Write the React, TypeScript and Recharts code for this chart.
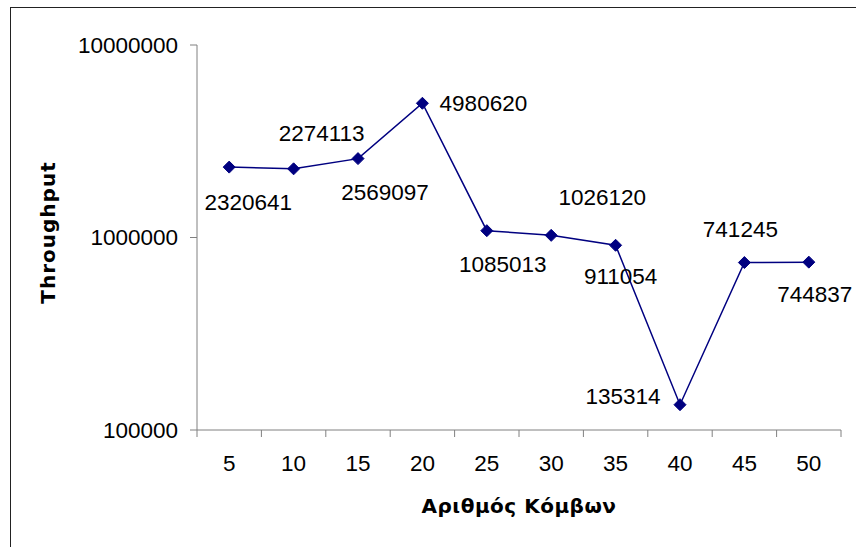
import React from 'react';
import { LineChart, Line, XAxis, YAxis, LabelList } from 'recharts';

// Number of nodes (x) and measured throughput (y)
const nodeCounts = [5, 10, 15, 20, 25, 30, 35, 40, 45, 50];
const throughputValues = [2320641, 2274113, 2569097, 4980620, 1085013, 1026120, 911054, 135314, 741245, 744837];
const yTicks = [100000, 1000000, 10000000];
// Category boundaries where the x-axis tick marks sit
const xBoundaryTicks = [2.5, 7.5, 12.5, 17.5, 22.5, 27.5, 32.5, 37.5, 42.5, 47.5, 52.5];

// Per-point placement of the value labels (offset of label centre from the marker)
const labelOffsets: [number, number][] = [
  [19, 35], [28, -36], [27, 33], [61, 0], [16, 33],
  [51, -38], [5, 31], [-57, -9], [-4, -34], [6, 32],
];

const data = nodeCounts.map((n, i) => ({ nodes: n, throughput: throughputValues[i] }));

const SERIES_COLOR = '#000080';
const AXIS_COLOR = '#808080';
const NUM_FONT = '"Liberation Sans", Arial, sans-serif';
const TITLE_FONT = '"DejaVu Sans", Verdana, sans-serif';

const Diamond = (props: any) => {
  const { cx, cy, index } = props;
  if (cx == null || cy == null) return null;
  const r = 6;
  return (
    <polygon
      key={`d-${index}`}
      points={`${cx},${cy - r} ${cx + r},${cy} ${cx},${cy + r} ${cx - r},${cy}`}
      fill={SERIES_COLOR}
      stroke={SERIES_COLOR}
    />
  );
};

const ValueLabel = (props: any) => {
  const { x, y, value, index } = props;
  const [dx, dy] = labelOffsets[index] || [0, 0];
  return (
    <text
      x={x + dx}
      y={y + dy}
      dy="0.36em"
      textAnchor="middle"
      fontFamily={NUM_FONT}
      fontSize={22.5}
      fill="#000"
    >
      {value}
    </text>
  );
};

const YTitle = (props: any) => {
  const vb = props.viewBox || {};
  const x = vb.x + 48;
  const y = vb.y + vb.height / 2 - 5;
  return (
    <text
      x={x}
      y={y}
      transform={`rotate(-90, ${x}, ${y})`}
      textAnchor="middle"
      dominantBaseline="central"
      fontFamily={TITLE_FONT}
      fontWeight="bold"
      fontSize={20}
      letterSpacing={1}
      fill="#000"
    >
      Throughput
    </text>
  );
};

const XTitle = (props: any) => {
  const vb = props.viewBox || {};
  return (
    <text
      x={vb.x + vb.width / 2}
      y={vb.y + 82}
      textAnchor="middle"
      fontFamily={TITLE_FONT}
      fontWeight="bold"
      fontSize={20}
      letterSpacing={0.5}
      fill="#000"
    >
      Αριθμός Κόμβων
    </text>
  );
};

const blankTick = () => '';

export default function App() {
  return (
    <div style={{ position: 'fixed', left: 0, top: 0, width: 856, height: 547, background: '#fff', overflow: 'hidden' }}>
      <div
        style={{
          position: 'absolute',
          left: 10,
          top: 7,
          width: 846,
          height: 540,
          borderLeft: '1px solid #222',
          borderTop: '1px solid #222',
          boxSizing: 'border-box',
        }}
      />
      <div style={{ position: 'absolute', left: 0, top: 0 }}>
        <LineChart width={856} height={547} data={data} margin={{ top: 45, right: 15, bottom: 56, left: 0 }}>
          <XAxis
            xAxisId="a_bounds"
            dataKey="nodes"
            type="number"
            domain={[2.5, 52.5]}
            ticks={xBoundaryTicks}
            interval={0}
            height={1}
            tickSize={7}
            tickFormatter={blankTick}
            tickLine={{ stroke: AXIS_COLOR }}
            axisLine={{ stroke: AXIS_COLOR }}
            allowDataOverflow
          />
          <XAxis
            xAxisId="b_labels"
            dataKey="nodes"
            type="number"
            domain={[2.5, 52.5]}
            ticks={nodeCounts}
            interval={0}
            height={60}
            tickSize={0}
            tickMargin={24}
            axisLine={false}
            tickLine={false}
            tick={{ fontSize: 22.5, fill: '#000', fontFamily: NUM_FONT }}
            label={<XTitle />}
            allowDataOverflow
          />
          <YAxis
            scale="log"
            domain={[100000, 10000000]}
            ticks={yTicks}
            interval={0}
            width={197}
            tickSize={7}
            tickMargin={12}
            tick={{ fontSize: 22.5, fill: '#000', fontFamily: NUM_FONT }}
            tickLine={{ stroke: AXIS_COLOR }}
            axisLine={{ stroke: AXIS_COLOR }}
            label={<YTitle />}
            allowDataOverflow
          />
          <Line
            xAxisId="a_bounds"
            type="linear"
            dataKey="throughput"
            stroke={SERIES_COLOR}
            strokeWidth={1.5}
            dot={Diamond}
            activeDot={false}
            isAnimationActive={false}
          >
            <LabelList dataKey="throughput" content={ValueLabel} />
          </Line>
        </LineChart>
      </div>
    </div>
  );
}
